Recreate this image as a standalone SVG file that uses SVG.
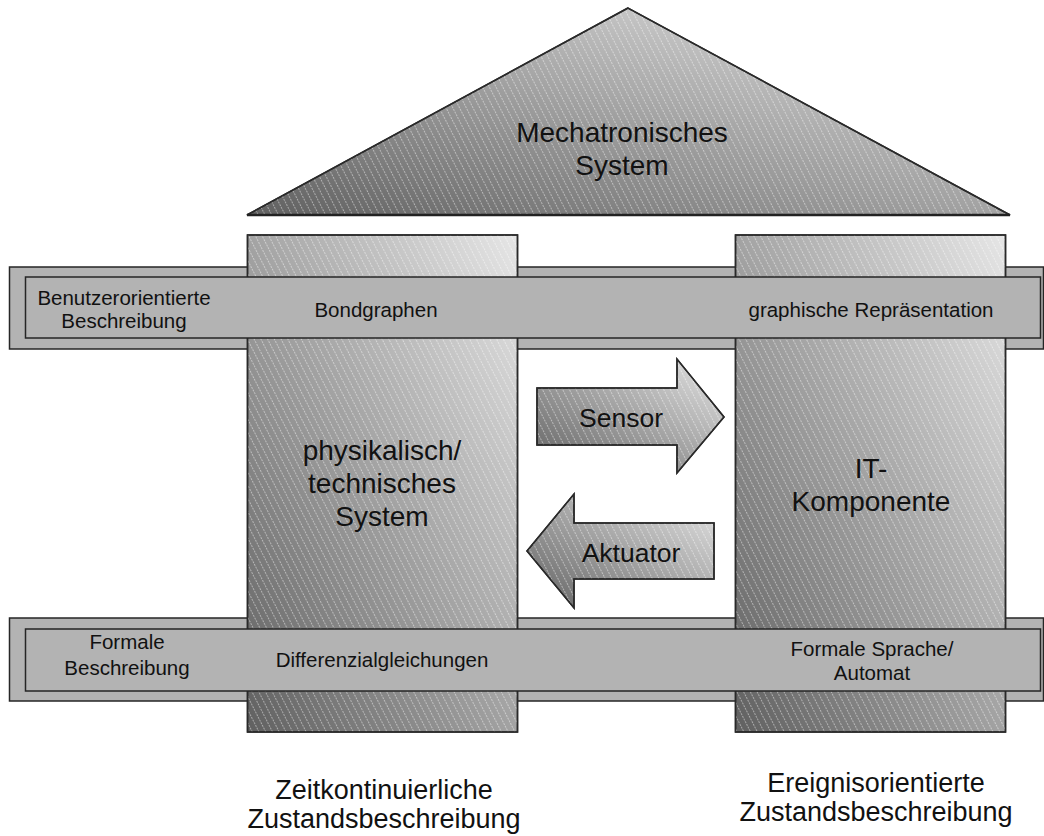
<svg xmlns="http://www.w3.org/2000/svg" width="1044" height="836" viewBox="0 0 1044 836">
  <defs>
    <linearGradient id="shade" x1="0" y1="1" x2="1" y2="0">
      <stop offset="0" stop-color="#606060"/>
      <stop offset="1" stop-color="#e6e6e6"/>
    </linearGradient>
    <pattern id="hatch" width="6" height="6" patternUnits="userSpaceOnUse" patternTransform="rotate(-27)">
      <line x1="0.5" y1="0" x2="0.5" y2="6" stroke="#ffffff" stroke-width="0.8" stroke-opacity="0.55" stroke-dasharray="2 1"/>
    </pattern>
    <style>
      .shaded { fill: url(#shade); stroke: #2a2a2a; stroke-width: 1.5; }
      .hatch { fill: url(#hatch); stroke: none; }
      .band { fill: #b3b3b3; stroke: #262626; stroke-width: 1.5; }
      .outline { fill: none; stroke: #2a2a2a; stroke-width: 1.5; }
      text { font-family: "Liberation Sans", Arial, sans-serif; fill: #111; text-anchor: middle; }
      .big { font-size: 28px; }
      .arr { font-size: 26.5px; }
      .small { font-size: 20.5px; }
      .foot { font-size: 27px; }
    </style>
  </defs>

  <g id="roof">
    <polygon class="shaded" points="628,8 247,215 1010,215"/>
    <polygon class="hatch" points="628,8 247,215 1010,215"/>
    <polygon class="outline" points="628,8 247,215 1010,215"/>
    <line x1="247" y1="215" x2="1010" y2="215" stroke="#222" stroke-width="2.5"/>
    <text class="big" x="622" y="142">Mechatronisches</text>
    <text class="big" x="622" y="175">System</text>
  </g>

  <g id="outer-bands">
    <rect class="band" x="9.5" y="267" width="1034" height="82"/>
    <rect class="band" x="9.5" y="618" width="1034" height="83"/>
  </g>

  <g id="pillar-physical">
    <rect class="shaded" x="247.5" y="235" width="270" height="497"/>
    <rect class="hatch" x="247.5" y="235" width="270" height="497"/>
    <rect class="outline" x="247.5" y="235" width="270" height="497"/>
  </g>

  <g id="pillar-it">
    <rect class="shaded" x="735.5" y="235" width="270" height="497"/>
    <rect class="hatch" x="735.5" y="235" width="270" height="497"/>
    <rect class="outline" x="735.5" y="235" width="270" height="497"/>
  </g>

  <g id="band-top">
    <rect class="band" x="25.5" y="277" width="1015" height="61"/>
    <text class="small" x="124" y="305">Benutzerorientierte</text>
    <text class="small" x="124" y="328">Beschreibung</text>
    <text class="small" x="376" y="317">Bondgraphen</text>
    <text class="small" x="871" y="317">graphische Repräsentation</text>
  </g>

  <g id="band-bottom">
    <rect class="band" x="25.5" y="629" width="1015" height="62"/>
    <text class="small" x="127" y="649">Formale</text>
    <text class="small" x="127" y="675">Beschreibung</text>
    <text class="small" x="382" y="667">Differenzialgleichungen</text>
    <text class="small" x="872" y="656">Formale Sprache/</text>
    <text class="small" x="872" y="680">Automat</text>
  </g>

  <g id="label-physical">
    <text class="big" x="382" y="460">physikalisch/</text>
    <text class="big" x="382" y="493">technisches</text>
    <text class="big" x="382" y="526">System</text>
  </g>

  <g id="label-it">
    <text class="big" x="871" y="478">IT-</text>
    <text class="big" x="871" y="511">Komponente</text>
  </g>

  <g id="connectors">
    <g id="sensor">
      <path class="shaded" d="M537,388 H677 V359 L724,417 L677,473 V445 H537 Z"/>
      <path class="hatch" d="M537,388 H677 V359 L724,417 L677,473 V445 H537 Z"/>
      <path class="outline" d="M537,388 H677 V359 L724,417 L677,473 V445 H537 Z"/>
      <text class="arr" x="621" y="427">Sensor</text>
    </g>
    <g id="aktuator">
      <path class="shaded" d="M527,551 L574,494 V523 H714 V579 H574 V608 Z"/>
      <path class="hatch" d="M527,551 L574,494 V523 H714 V579 H574 V608 Z"/>
      <path class="outline" d="M527,551 L574,494 V523 H714 V579 H574 V608 Z"/>
      <text class="arr" x="631" y="562">Aktuator</text>
    </g>
  </g>

  <g id="captions">
    <text class="foot" x="384" y="799">Zeitkontinuierliche</text>
    <text class="foot" x="384" y="828">Zustandsbeschreibung</text>
    <text class="foot" x="876" y="792">Ereignisorientierte</text>
    <text class="foot" x="876" y="821">Zustandsbeschreibung</text>
  </g>
</svg>
